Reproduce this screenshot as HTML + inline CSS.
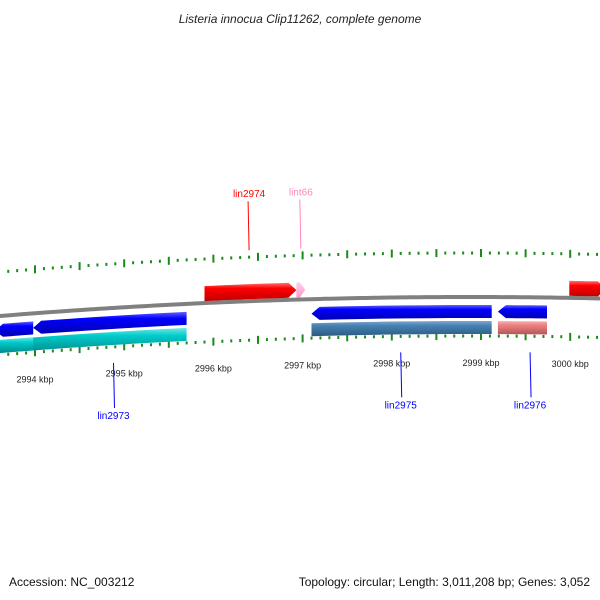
<!DOCTYPE html>
<html><head><meta charset="utf-8"><style>
html,body{margin:0;padding:0;background:#fff;}
svg{display:block;font-family:"Liberation Sans",sans-serif;}
</style></head><body>
<svg id="chart" width="600" height="600" viewBox="0 0 600 600">
<defs>
<linearGradient id="gRed" x1="0" y1="0" x2="0" y2="1"><stop offset="0" stop-color="#ff7070"/><stop offset="0.3" stop-color="#ff0000"/><stop offset="1" stop-color="#c00000"/></linearGradient>
<linearGradient id="gPink" x1="0" y1="0" x2="0" y2="1"><stop offset="0" stop-color="#ffd0e8"/><stop offset="1" stop-color="#ff99cc"/></linearGradient>
<linearGradient id="gBlue" x1="0" y1="0" x2="0" y2="1"><stop offset="0" stop-color="#6060ff"/><stop offset="0.3" stop-color="#0000ff"/><stop offset="1" stop-color="#0000b0"/></linearGradient>
<linearGradient id="gCyan" x1="0" y1="0" x2="0" y2="1"><stop offset="0" stop-color="#70e8e8"/><stop offset="0.3" stop-color="#00cccc"/><stop offset="1" stop-color="#008888"/></linearGradient>
<linearGradient id="gSteel" x1="0" y1="0" x2="0" y2="1"><stop offset="0" stop-color="#80a8d0"/><stop offset="0.3" stop-color="#4682b4"/><stop offset="1" stop-color="#2c5a80"/></linearGradient>
<linearGradient id="gCoral" x1="0" y1="0" x2="0" y2="1"><stop offset="0" stop-color="#f8b0b0"/><stop offset="0.3" stop-color="#f08080"/><stop offset="1" stop-color="#b05858"/></linearGradient>
</defs>
<text x="300" y="23" text-anchor="middle" font-size="12" font-style="italic" fill="#222">Listeria innocua Clip11262, complete genome</text>
<g id="layer"></g>
<text x="9" y="586" font-size="12" fill="#111">Accession: NC_003212</text>
<text x="590" y="586" text-anchor="end" font-size="12" fill="#111">Topology: circular; Length: 3,011,208 bp; Genes: 3,052</text>
</svg>
<script>
const tickLabels = [2994, 2995, 2996, 2997, 2998, 2999, 3000];
const geneNames = ["lin2974", "lint66", "lin2977", "lin2972", "lin2973", "lin2975", "lin2976", "cds2973", "cds2975", "cds2976", "cds2972"];
const geneStarts = [2995.90, 2996.93, 2999.99, 2993.55, 2993.98, 2997.10, 2999.19, 2993.55, 2997.10, 2999.19, 2993.55];
const geneEnds   = [2996.93, 2997.03, 3000.40, 2993.98, 2995.70, 2999.12, 2999.74, 2995.70, 2999.12, 2999.74, 2993.98];
const geneStrand = [1, 1, 1, -1, -1, -1, -1, 0, 0, 0, 0];
const geneTrack  = ["outer", "outer", "outer", "inner", "inner", "inner", "inner", "inner2", "inner2", "inner2", "inner2"];
const geneFill   = ["gRed", "gPink", "gRed", "gBlue", "gBlue", "gBlue", "gBlue", "gCyan", "gSteel", "gCoral", "gCyan"];
const labelNames = ["lin2974", "lint66", "lin2973", "lin2975", "lin2976"];
const labelPos   = [2996.4, 2996.98, 2994.88, 2998.1, 2999.55];
const labelSide  = [1, 1, -1, -1, -1];
const labelColor = ["#ff0000", "#ff88bb", "#0000ff", "#0000ff", "#0000ff"];

const NS = "http://www.w3.org/2000/svg";
const layer = document.getElementById("layer");
const xScale = k => 35 + (k - 2994) * 89.2;
const base = x => 297 + (x - 470) * (x - 470) / (2 * 5813);
const trackOff = {outer: [-17, -2], inner: [8, 21], inner2: [24, 37]};
function mk(tag, attrs) { const e = document.createElementNS(NS, tag); for (const k in attrs) e.setAttribute(k, attrs[k]); layer.appendChild(e); return e; }

// backbone
let d = "";
for (let x = -5; x <= 605; x += 5) d += (x === -5 ? "M" : "L") + x + "," + base(x).toFixed(2);
const bb = mk("path", {d: d, fill: "none", stroke: "#808080", "stroke-width": 4});



// ticks
for (let i = 0; i <= 75; i++) {
  const k = 2993.6 + i * 0.1;
  const x = xScale(k);
  if (x < 0 || x > 600) continue;
  const isMajor = Math.abs(((k * 2) % 1 + 1) % 1) < 0.01 || Math.abs(((k * 2) % 1 + 1) % 1) > 0.99;
  const len = isMajor ? 8 : 3;
  [-44, 39].forEach(off => {
    const y = base(x) + off;
    const t = mk("line", {x1: x, x2: x, y1: y - len / 2, y2: y + len / 2, stroke: "#1a8a1a", "stroke-width": 2});
    
    
  });
}
tickLabels.forEach(k => {
  const x = xScale(k);
  const t = mk("text", {x: x, y: base(x) + 69, "text-anchor": "middle", "font-size": 9, fill: "#222"});
  t.textContent = k + " kbp";
  
  
});

// genes
geneNames.forEach((n, i) => {
  const x1 = xScale(geneStarts[i]), x2 = xScale(geneEnds[i]);
  const [o1, o2] = trackOff[geneTrack[i]];
  const head = Math.min(8, (x2 - x1) * 0.6);
  const pts = [];
  const s = geneStrand[i];
  const a = s === -1 ? x1 + head : x1, b = s === 1 ? x2 - head : x2;
  const steps = 8;
  for (let j = 0; j <= steps; j++) { const x = a + (b - a) * j / steps; pts.push([x, base(x) + o1]); }
  if (s === 1) { const xm = x2; pts.push([xm, base(xm) + (o1 + o2) / 2]); }
  for (let j = steps; j >= 0; j--) { const x = a + (b - a) * j / steps; pts.push([x, base(x) + o2]); }
  if (s === -1) { pts.push([x1, base(x1) + (o1 + o2) / 2]); }
  const p = mk("polygon", {points: pts.map(q => q[0].toFixed(1) + "," + q[1].toFixed(1)).join(" "), fill: "url(#" + geneFill[i] + ")"});
  
  
});

// labels
labelNames.forEach((n, i) => {
  const x = xScale(labelPos[i]);
  const by = base(x);
  let y1, y2, ty;
  if (labelSide[i] === 1) { y1 = by - 51; y2 = by - 100; ty = by - 104; }
  else { y1 = by + 55; y2 = by + 100; ty = by + 111; }
  const l = mk("line", {x1: x, x2: x + (labelSide[i] === 1 ? -1 : 1), y1: y1, y2: y2, stroke: labelColor[i], "stroke-width": 1});
  
  
  const t = mk("text", {x: x, y: ty, "text-anchor": "middle", "font-size": 10, fill: labelColor[i]});
  t.textContent = n;
  
  
});
</script>
</body></html>
